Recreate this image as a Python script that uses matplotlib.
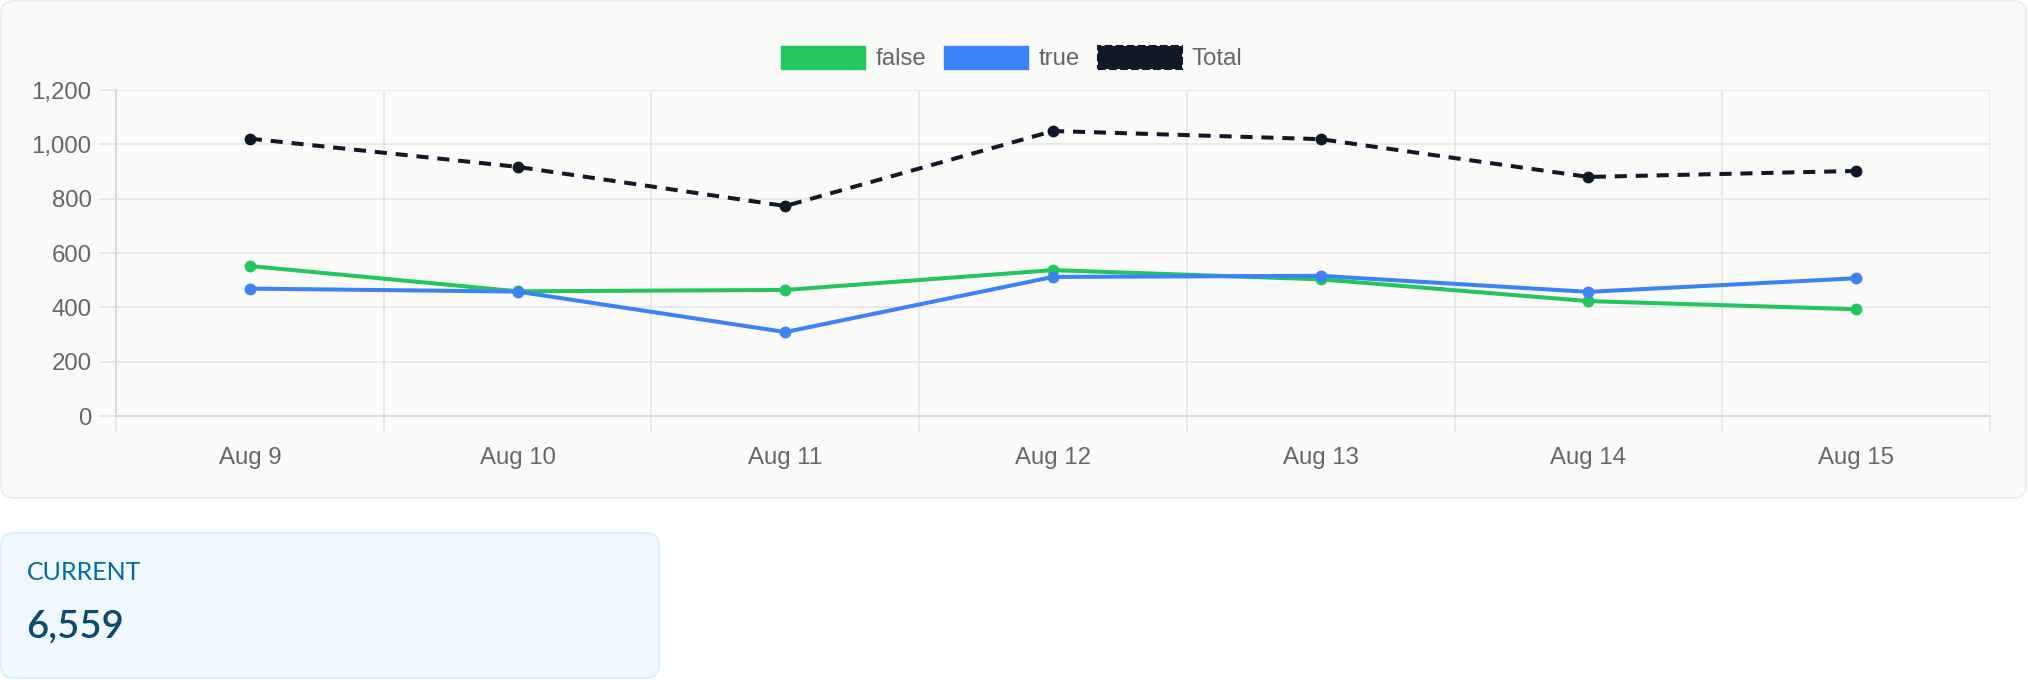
import matplotlib
matplotlib.use("Agg")
import matplotlib.pyplot as plt
from matplotlib.patches import FancyBboxPatch, Patch
from matplotlib.ticker import FuncFormatter, FixedLocator

# ---- data ----
categories = ["Aug 9", "Aug 10", "Aug 11", "Aug 12", "Aug 13", "Aug 14", "Aug 15"]
false_vals = [552, 459, 464, 537, 503, 423, 393]
true_vals = [469, 458, 309, 512, 516, 457, 507]
total_vals = [1021, 917, 773, 1049, 1019, 880, 902]
y_ticks = [0, 200, 400, 600, 800, 1000, 1200]
current_label = "CURRENT"
current_value = "6,559"

W, H = 2028, 680
fig = plt.figure(figsize=(W / 100, H / 100), dpi=100)
fig.patch.set_facecolor("white")

# background axes in pixel coords for cards
bg = fig.add_axes([0, 0, 1, 1])
bg.set_xlim(0, W)
bg.set_ylim(H, 0)
bg.axis("off")
bg.add_patch(FancyBboxPatch((1, 1), W - 3, 497, boxstyle="round,pad=0,rounding_size=13",
                            facecolor="#fafaf9", edgecolor="#ecebe9", lw=1.2))
bg.add_patch(FancyBboxPatch((1, 533), 658, 145, boxstyle="round,pad=0,rounding_size=13",
                            facecolor="#f0f8ff", edgecolor="#dcefff", lw=1.5))
bg.text(27, 573, current_label, fontsize=18, color="#0369a1", family="Lato",
        fontweight="normal", va="center", ha="left")
bg.text(26, 627, current_value, fontsize=27.5, color="#0c4a6e", family="Lato",
        fontweight="semibold", va="center", ha="left")

# chart axes
left, right, top, bottom = 116, 1990, 90, 416
ax = fig.add_axes([left / W, 1 - bottom / H, (right - left) / W, (bottom - top) / H])
ax.set_facecolor("none")

grid_c = "#e3e3e2"
x = list(range(len(categories)))
green, blue, dark = "#22c55e", "#3b82f6", "#111827"

ax.plot(x, false_vals, color=green, lw=2.9, marker="o", ms=7.5, zorder=4, solid_capstyle="round")
ax.plot(x, true_vals, color=blue, lw=2.9, marker="o", ms=7.5, zorder=4, solid_capstyle="round")
ax.plot(x, total_vals, color=dark, lw=2.9, marker="o", ms=7.5, zorder=5,
        dashes=(3.0, 2.2))

ax.set_xlim(-0.5, len(categories) - 0.5)
ax.set_ylim(0, 1200)
ax.set_yticks(y_ticks)
ax.yaxis.set_major_formatter(FuncFormatter(lambda v, p: f"{int(v):,}"))
ax.set_xticks(x)
ax.set_xticklabels(categories)
ax.xaxis.set_minor_locator(FixedLocator([i - 0.5 for i in range(len(categories) + 1)]))

for s in ["top", "right"]:
    ax.spines[s].set_visible(False)
for s in ["left", "bottom"]:
    ax.spines[s].set_color("#d6d6d5")
    ax.spines[s].set_linewidth(1.3)

ax.grid(axis="y", which="major", color=grid_c, lw=1.1, zorder=0)
ax.grid(axis="x", which="minor", color=grid_c, lw=1.1, zorder=0)
ax.grid(axis="x", which="major", visible=False)

ax.tick_params(axis="y", which="major", length=12.5, width=1.1, color=grid_c,
               labelsize=17.3, labelcolor="#666666", pad=5)
ax.tick_params(axis="x", which="major", length=0, labelsize=17.3, labelcolor="#666666", pad=22)
ax.tick_params(axis="x", which="minor", length=11.5, width=1.1, color=grid_c)
for lab in ax.get_xticklabels() + ax.get_yticklabels():
    lab.set_family("Liberation Sans")

handles = [
    Patch(facecolor=green, edgecolor=green, label="false"),
    Patch(facecolor=blue, edgecolor=blue, label="true"),
    Patch(facecolor=dark, edgecolor=dark, linestyle="--", lw=1.5, label="Total"),
]
leg = fig.legend(handles=handles, loc="center", bbox_to_anchor=(1012 / W, 1 - 58 / H),
                 ncol=3, frameon=False, handlelength=3.5, handleheight=1.1,
                 handletextpad=0.42, columnspacing=0.75,
                 prop={"family": "Liberation Sans", "size": 17.3})
for t in leg.get_texts():
    t.set_color("#666666")

fig.savefig("out.png", dpi=100, facecolor="white")
